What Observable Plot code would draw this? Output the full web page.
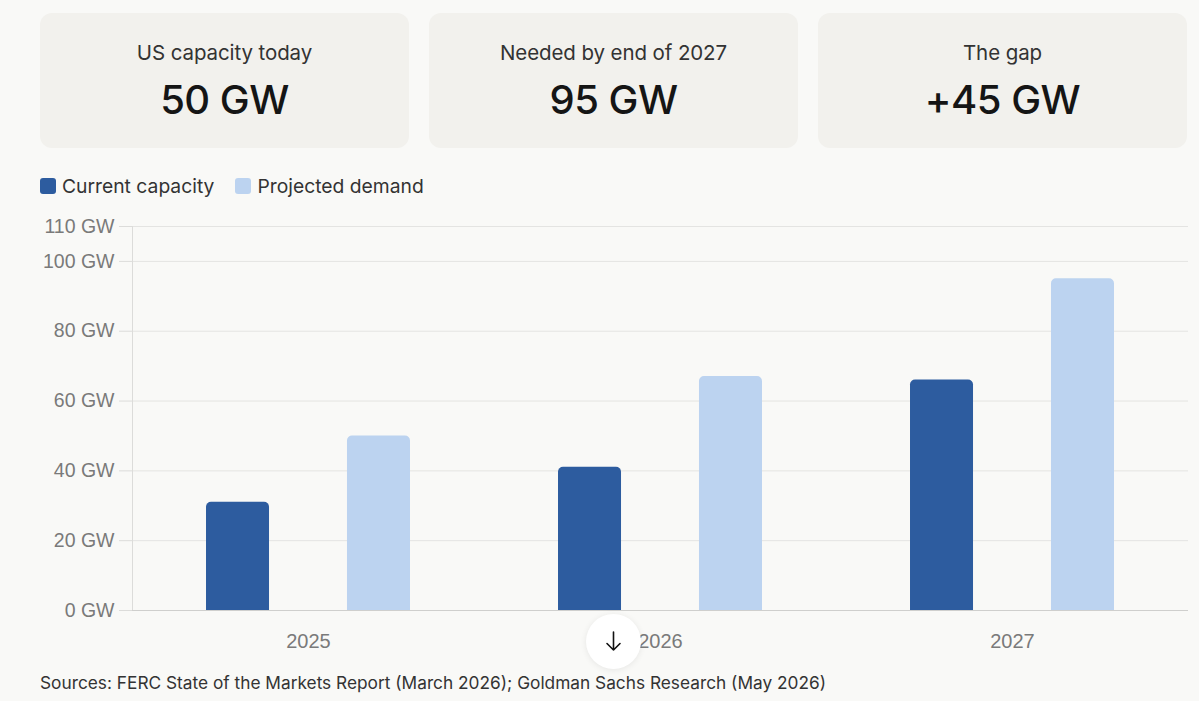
<!DOCTYPE html>
<html>
<head>
<meta charset="utf-8">
<script src="https://cdn.jsdelivr.net/npm/d3@7"></script>
<script src="https://cdn.jsdelivr.net/npm/@observablehq/plot@0.6"></script>
<style>
  html, body { margin: 0; padding: 0; background: #f9f9f7; }
  #page { position: relative; width: 1199px; height: 701px; overflow: hidden; font-family: "Inter", "Noto Sans", sans-serif; color: #2b2b2b; }
  .card { position: absolute; top: 13px; width: 369px; height: 135px; background: #f2f1ed; border-radius: 12px; text-align: center; }
  .card .lab { position: absolute; left: 0; right: 0; top: 27px; font-size: 20.5px; color: #333; letter-spacing: -0.1px; }
  .card .val { position: absolute; left: 0; right: 0; top: 62px; font-size: 40px; font-weight: 500; color: #151515; letter-spacing: -0.5px; }
  #legend { position: absolute; left: 40px; top: 174px; display: flex; align-items: center; font-size: 19.3px; color: #333; }
  #legend .item { display: flex; align-items: center; margin-right: 21px; }
  #legend .sw { width: 16px; height: 16px; border-radius: 3px; margin-right: 6px; }
  #chart { position: absolute; left: 0; top: 210px; }
  #source { position: absolute; left: 40px; top: 672px; font-size: 17.3px; color: #333; }
  #scroll { position: absolute; left: 586px; top: 614px; width: 55px; height: 55px; border-radius: 50%; background: #fff; box-shadow: 0 1px 6px rgba(0,0,0,0.08); }
</style>
</head>
<body>
<div id="page">
  <div id="cards"></div>
  <div id="legend"></div>
  <div id="chart"></div>
  <div id="source"></div>
  <div id="scroll">
    <svg width="55" height="55" viewBox="0 0 55 55">
      <path d="M27.5 18 V36 M21 29.5 L27.5 36 L34 29.5" fill="none" stroke="#111" stroke-width="1.6" stroke-linecap="round" stroke-linejoin="round"/>
    </svg>
  </div>
</div>
<script>
// Headline figures
const cardLabels = ["US capacity today", "Needed by end of 2027", "The gap"];
const cardValues = ["50 GW", "95 GW", "+45 GW"];

// Capacity vs. demand, in GW
const years = ["2025", "2026", "2027"];
const seriesNames = ["Current capacity", "Projected demand"];
const currentCapacity = [31, 41, 66];
const projectedDemand = [50, 67, 95];
const yTicks = [0, 20, 40, 60, 80, 100, 110];
const seriesColors = ["#2d5c9f", "#bcd3f0"];
const sourceText = "Sources: FERC State of the Markets Report (March 2026); Goldman Sachs Research (May 2026)";

// Cards
const cards = document.getElementById("cards");
cardLabels.forEach((label, i) => {
  const c = document.createElement("div");
  c.className = "card";
  c.style.left = (40 + i * 389) + "px";
  c.innerHTML = `<div class="lab">${label}</div><div class="val">${cardValues[i]}</div>`;
  cards.appendChild(c);
});

// Legend
const legend = document.getElementById("legend");
seriesNames.forEach((name, i) => {
  const it = document.createElement("div");
  it.className = "item";
  it.innerHTML = `<span class="sw" style="background:${seriesColors[i]}"></span><span>${name}</span>`;
  legend.appendChild(it);
});

document.getElementById("source").textContent = sourceText;

// Long table for the bars
const rows = years.flatMap((year, i) => [
  {year, series: seriesNames[0], value: currentCapacity[i]},
  {year, series: seriesNames[1], value: projectedDemand[i]}
]);

const axisFont = '"Liberation Sans", Arial, Helvetica, sans-serif';

const chart = Plot.plot({
  width: 1199,
  height: 450,
  marginLeft: 131,
  marginRight: 11,
  marginTop: 16,
  marginBottom: 50,
  style: {background: "transparent", fontFamily: axisFont, overflow: "visible"},
  fx: {domain: years, padding: 0, label: null},
  x: {domain: seriesNames, paddingInner: 0.553, paddingOuter: 0.525, round: false, axis: null},
  y: {domain: [0, 110], label: null},
  color: {domain: seriesNames, range: seriesColors},
  marks: [
    Plot.gridY(yTicks, {stroke: "#e4e4e2", strokeOpacity: 1}),
    Plot.frame({anchor: "left", stroke: "#dcdcda", facetAnchor: "left"}),
    Plot.axisY(yTicks, {
      tickSize: 13, tickPadding: 5, stroke: "#dcdcda", fill: "#7a7a7a",
      fontSize: 19.5, tickFormat: d => `${d} GW`, label: null
    }),
    Plot.axisFx({anchor: "bottom", tickSize: 0, tickPadding: 23, fontSize: 20, fill: "#7a7a7a", label: null}),
    Plot.barY(rows, {fx: "year", x: "series", y: "value", fill: "series", ry1: 5}),
    Plot.ruleY([0], {stroke: "#cfcfcd"})
  ]
});
document.getElementById("chart").appendChild(chart);
</script>
</body>
</html>
